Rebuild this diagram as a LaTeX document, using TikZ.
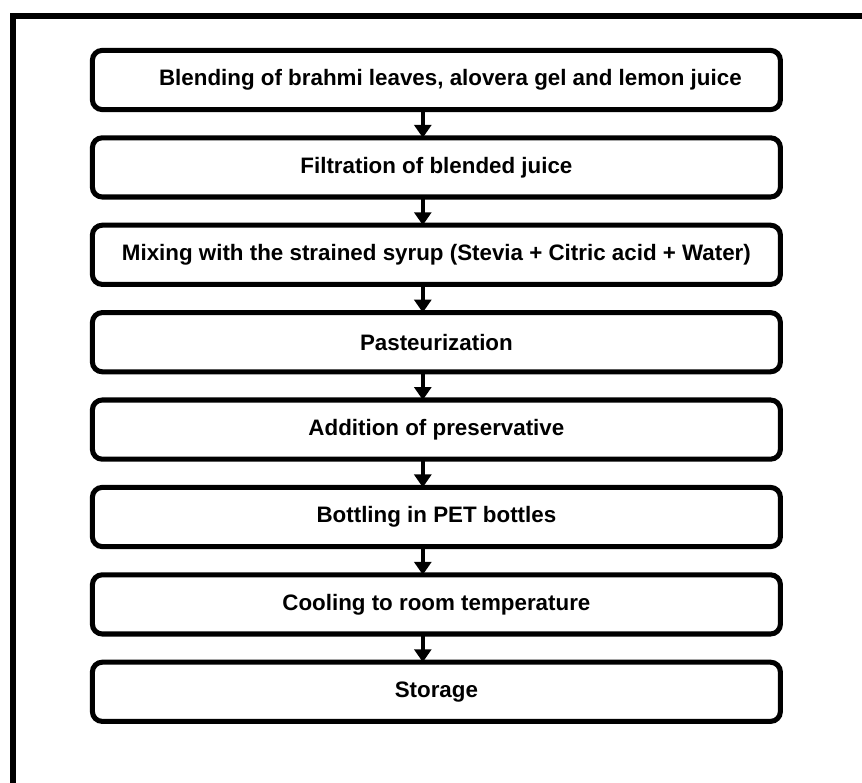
\documentclass[tikz,border=0pt]{standalone}
\usepackage{fontspec}
\setmainfont{Liberation Sans}
\usepackage{tikz}
\usetikzlibrary{arrows.meta, positioning}

\begin{document}
\begin{tikzpicture}[
  stage/.style={draw, line width=3.6pt, rounded corners=7pt, minimum width=17.2cm, minimum height=1.48cm, outer sep=0pt, align=center, font=\fontsize{15.9}{18}\selectfont\bfseries, inner sep=1mm},
  arrow/.style={-{Triangle[width=12pt, length=9.2pt]}, line width=2.8pt},
  frame/.style={line width=4.3pt}
]
\useasboundingbox (0,0) rectangle (21.55,-19.575);

\draw[frame] (0.325,-20) -- (0.325,-0.4) -- (22,-0.4);

\node[stage] (s1) at (10.91,-2.0) {\hspace{7mm}Blending of brahmi leaves, alovera gel and lemon juice};
\node[stage] (s2) at (10.91,-4.185) {Filtration of blended juice};
\node[stage] (s3) at (10.91,-6.37) {Mixing with the strained syrup (Stevia + Citric acid + Water)};
\node[stage] (s4) at (10.91,-8.555) {Pasteurization};
\node[stage] (s5) at (10.91,-10.74) {Addition of preservative};
\node[stage] (s6) at (10.91,-12.925) {Bottling in PET bottles};
\node[stage] (s7) at (10.91,-15.11) {Cooling to room temperature};
\node[stage] (s8) at (10.91,-17.295) {Storage};

\draw[arrow] ([xshift=-3.4mm]s1.south) -- ([xshift=-3.4mm]s2.north);
\draw[arrow] ([xshift=-3.4mm]s2.south) -- ([xshift=-3.4mm]s3.north);
\draw[arrow] ([xshift=-3.4mm]s3.south) -- ([xshift=-3.4mm]s4.north);
\draw[arrow] ([xshift=-3.4mm]s4.south) -- ([xshift=-3.4mm]s5.north);
\draw[arrow] ([xshift=-3.4mm]s5.south) -- ([xshift=-3.4mm]s6.north);
\draw[arrow] ([xshift=-3.4mm]s6.south) -- ([xshift=-3.4mm]s7.north);
\draw[arrow] ([xshift=-3.4mm]s7.south) -- ([xshift=-3.4mm]s8.north);
\end{tikzpicture}
\end{document}
